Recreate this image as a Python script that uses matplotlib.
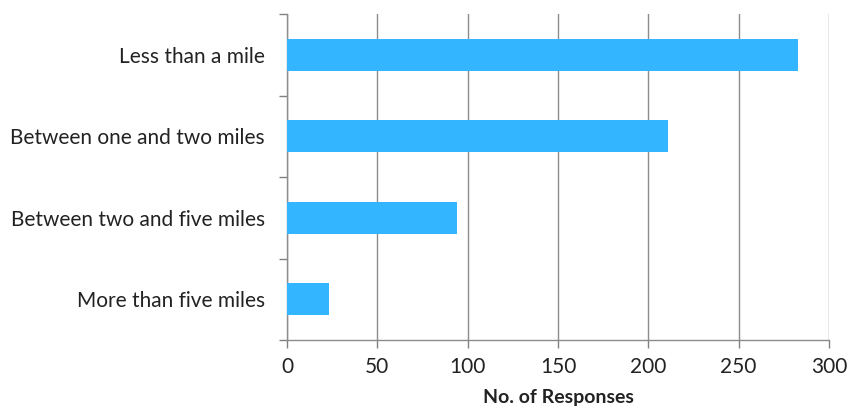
import matplotlib
matplotlib.use("Agg")
import matplotlib.pyplot as plt
import numpy as np

categories = ["Less than a mile", "Between one and two miles",
              "Between two and five miles", "More than five miles"]
responses = [283, 211, 94, 23]
xticks = [0, 50, 100, 150, 200, 250, 300]

plt.rcParams['font.family'] = ['Lato', 'DejaVu Sans']

fig = plt.figure(figsize=(8.48, 4.08), dpi=100)
ax = fig.add_axes([287 / 848, 1 - 340 / 408, (829 - 287) / 848, (340 - 14) / 408])

n = len(categories)
ypos = np.arange(n)[::-1]
ax.barh(ypos, responses, height=0.39, color="#33B5FF", zorder=3)

ax.set_xlim(0, 300)
ax.set_ylim(-0.5, n - 0.5)
ax.set_xticks(xticks)
ax.set_xticklabels([str(t) for t in xticks], fontsize=15, color="#222222")
ax.set_yticks(ypos)
ax.set_yticklabels(categories, fontsize=15, color="#222222")
ax.set_yticks(np.arange(-0.5, n, 1.0), minor=True)

ax.tick_params(axis="y", which="major", length=0, pad=16)
ax.tick_params(axis="y", which="minor", length=6, color="#808080", width=1)
ax.tick_params(axis="x", which="major", length=6, color="#808080", width=1, pad=6)

ax.grid(axis="x", color="#8c8c8c", linewidth=1, zorder=0)
for s in ["top", "right"]:
    ax.spines[s].set_visible(False)
for s in ["left", "bottom"]:
    ax.spines[s].set_color("#8c8c8c")
    ax.spines[s].set_linewidth(1)

ax.set_xlabel("No. of Responses", fontsize=14, fontweight="bold", color="#222222", labelpad=9)

fig.savefig("out.png", dpi=100)
